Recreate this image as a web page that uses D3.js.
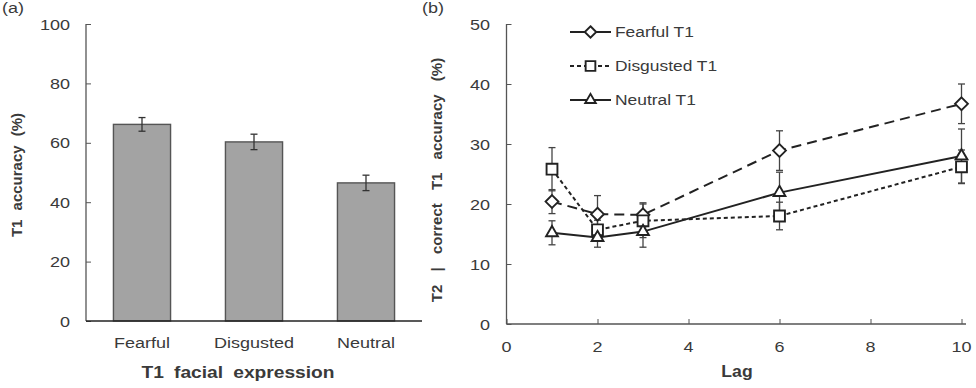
<!DOCTYPE html>
<html>
<head>
<meta charset="utf-8">
<script src="https://cdn.jsdelivr.net/npm/d3@7"></script>
<style>
  body { margin: 0; background: #fff; }
  text { font-family: "Liberation Sans", Arial, sans-serif; fill: #3a3a3a; }
</style>
</head>
<body>
<script>
// panel (a) data
var categorias = ["Fearful", "Disgusted", "Neutral"];
var acuracia = [66.2, 60.3, 46.5];
var erroA = [2.3, 2.6, 2.6];

// panel (b) data
var lags = [1, 2, 3, 6, 10];
var medoT1 = [20.4, 18.3, 18.2, 28.9, 36.7];
var medoErro = [2.0, 3.1, 2.0, 3.3, 3.3];
var nojoT1 = [25.8, 15.7, 17.2, 18.0, 26.2];
var nojoErro = [3.6, 1.6, 2.8, 2.3, 2.8];
var neutroT1 = [15.2, 14.4, 15.4, 21.9, 28.0];
var neutroErro = [2.0, 1.6, 2.6, 3.4, 4.5];
var nomesSerie = ["Fearful T1", "Disgusted T1", "Neutral T1"];

var ticksA = [0, 20, 40, 60, 80, 100];
var ticksBy = [0, 10, 20, 30, 40, 50];
var ticksBx = [0, 2, 4, 6, 8, 10];

const cinza = "#222";
const esticar = 1.2; // the original picture is a bit wider than tall

svg = d3.select("body")
  .append("svg")
  .attr("width", 976)
  .attr("height", 388);

// text helper, stretched horizontally like the original
function texto(g, x, y, t, tam, ancora, negrito) {
  return g.append("text")
    .attr("transform", "translate(" + x + "," + y + ") scale(" + esticar + ",1)")
    .attr("text-anchor", ancora)
    .attr("font-size", tam)
    .attr("font-weight", negrito ? "bold" : null)
    .text(t);
}

// ---------- (a) ----------
var escalaXa = d3.scaleBand()
  .domain(categorias)
  .range([86, 422])
  .paddingInner(0.49)
  .paddingOuter(0.245);

var escalaYa = d3.scaleLinear()
  .domain([0, 100])
  .range([321, 24]);

gA = svg.append("g");

// y axis, ticks pointing inward
gA.append("g")
  .attr("transform", "translate(86,0)")
  .call(d3.axisRight(escalaYa).tickValues(ticksA).tickSize(5).tickFormat(""))
  .call(g => g.select(".domain").remove())
  .selectAll("line").attr("stroke", "#555");
gA.append("line")
  .attr("x1", 86).attr("x2", 86)
  .attr("y1", escalaYa(100)).attr("y2", escalaYa(0))
  .attr("stroke", "#555").attr("stroke-width", 1.3);

ticksA.forEach(function(d) {
  texto(gA, 70, escalaYa(d) + 5.5, d, 15, "end");
});

gA.selectAll(".barra")
  .data(categorias)
  .enter().append("rect")
  .attr("x", d => escalaXa(d))
  .attr("width", escalaXa.bandwidth())
  .attr("y", (d, i) => escalaYa(acuracia[i]))
  .attr("height", (d, i) => escalaYa(0) - escalaYa(acuracia[i]))
  .attr("fill", "#a3a3a3")
  .attr("stroke", "#555")
  .attr("stroke-width", 1.4);

// error bars
categorias.forEach(function(c, i) {
  var cx = escalaXa(c) + escalaXa.bandwidth() / 2;
  var y1 = escalaYa(acuracia[i] + erroA[i]);
  var y2 = escalaYa(acuracia[i] - erroA[i]);
  gA.append("line").attr("x1", cx).attr("x2", cx).attr("y1", y1).attr("y2", y2)
    .attr("stroke", "#333").attr("stroke-width", 1.3);
  [y1, y2].forEach(function(y) {
    gA.append("line").attr("x1", cx - 3.5).attr("x2", cx + 3.5).attr("y1", y).attr("y2", y)
      .attr("stroke", "#333").attr("stroke-width", 1.3);
  });
});

gA.append("line")
  .attr("x1", 86).attr("x2", 422)
  .attr("y1", escalaYa(0)).attr("y2", escalaYa(0))
  .attr("stroke", "#222").attr("stroke-width", 1.4);

categorias.forEach(function(c) {
  texto(gA, escalaXa(c) + escalaXa.bandwidth() / 2, 348, c, 15, "middle");
});

texto(gA, 238, 378, "T1 facial expression", 16, "middle", true)
  .attr("word-spacing", 4);

gA.append("text")
  .attr("transform", "translate(22,175) rotate(-90)")
  .attr("text-anchor", "middle")
  .attr("font-size", 15).attr("font-weight", "bold")
  .attr("word-spacing", 5)
  .text("T1 accuracy (%)");

texto(gA, 2, 13, "(a)", 15, "start");

// ---------- (b) ----------
var escalaXb = d3.scaleLinear()
  .domain([0, 10])
  .range([506.5, 961.5]);

var escalaYb = d3.scaleLinear()
  .domain([0, 50])
  .range([324, 24]);

gB = svg.append("g");

gB.append("g")
  .attr("transform", "translate(506.5,0)")
  .call(d3.axisRight(escalaYb).tickValues(ticksBy).tickSize(5).tickFormat(""))
  .call(g => g.select(".domain").remove())
  .selectAll("line").attr("stroke", "#555");
gB.append("line")
  .attr("x1", 506.5).attr("x2", 506.5)
  .attr("y1", escalaYb(50)).attr("y2", escalaYb(0))
  .attr("stroke", "#555").attr("stroke-width", 1.3);

gB.append("g")
  .attr("transform", "translate(0,324)")
  .call(d3.axisTop(escalaXb).tickValues(ticksBx).tickSize(5).tickFormat(""))
  .call(g => g.select(".domain").remove())
  .selectAll("line").attr("stroke", "#555");
gB.append("line")
  .attr("x1", 506.5).attr("x2", 966)
  .attr("y1", escalaYb(0)).attr("y2", escalaYb(0))
  .attr("stroke", "#555").attr("stroke-width", 1.3);

ticksBy.forEach(function(d) {
  texto(gB, 490, escalaYb(d) + 5.5, d, 15, "end");
});
ticksBx.forEach(function(d) {
  texto(gB, escalaXb(d), 352, d, 15, "middle");
});

gB.append("text")
  .attr("transform", "translate(737,377) scale(1.1,1)")
  .attr("text-anchor", "middle")
  .attr("font-size", 16).attr("font-weight", "bold")
  .text("Lag");

gB.append("text")
  .attr("transform", "translate(442,180) rotate(-90)")
  .attr("text-anchor", "middle")
  .attr("font-size", 15).attr("font-weight", "bold")
  .attr("word-spacing", 9)
  .text("T2 | correct T1 accuracy (%)");

texto(gB, 422, 13, "(b)", 15, "start");

var series = [
  { nome: nomesSerie[0], valores: medoT1, erro: medoErro, dash: "10,6", simbolo: d3.symbolDiamond2, tam: 105 },
  { nome: nomesSerie[1], valores: nojoT1, erro: nojoErro, dash: "4,3", simbolo: d3.symbolSquare2, tam: 150 },
  { nome: nomesSerie[2], valores: neutroT1, erro: neutroErro, dash: null, simbolo: d3.symbolTriangle2, tam: 100 }
];

var linha = d3.line()
  .x(d => escalaXb(d[0]))
  .y(d => escalaYb(d[1]));

// error bars first
series.forEach(function(s) {
  lags.forEach(function(l, i) {
    var cx = escalaXb(l);
    var y1 = escalaYb(s.valores[i] + s.erro[i]);
    var y2 = escalaYb(s.valores[i] - s.erro[i]);
    gB.append("line").attr("x1", cx).attr("x2", cx).attr("y1", y1).attr("y2", y2)
      .attr("stroke", "#444").attr("stroke-width", 1.3);
    [y1, y2].forEach(function(y) {
      gB.append("line").attr("x1", cx - 3.5).attr("x2", cx + 3.5).attr("y1", y).attr("y2", y)
        .attr("stroke", "#444").attr("stroke-width", 1.3);
    });
  });
});

series.forEach(function(s) {
  gB.append("path")
    .datum(lags.map((l, i) => [l, s.valores[i]]))
    .attr("d", linha)
    .attr("fill", "none")
    .attr("stroke", cinza)
    .attr("stroke-width", 2)
    .attr("stroke-dasharray", s.dash);
});

series.forEach(function(s) {
  gB.selectAll(null)
    .data(lags)
    .enter().append("path")
    .attr("d", d3.symbol().type(s.simbolo).size(s.tam))
    .attr("transform", (d, i) => "translate(" + escalaXb(d) + "," + escalaYb(s.valores[i]) + ")")
    .attr("fill", "#fff")
    .attr("stroke", cinza)
    .attr("stroke-width", 1.9);
});

// legend
var legDash = [null, "4,3", null];
series.forEach(function(s, i) {
  var y = 32 + i * 34;
  gB.append("line")
    .attr("x1", 570).attr("x2", 611)
    .attr("y1", y).attr("y2", y)
    .attr("stroke", cinza).attr("stroke-width", 2)
    .attr("stroke-dasharray", legDash[i]);
  gB.append("path")
    .attr("d", d3.symbol().type(s.simbolo).size(s.tam * 0.8))
    .attr("transform", "translate(590.5," + y + ")")
    .attr("fill", "#fff")
    .attr("stroke", cinza)
    .attr("stroke-width", 1.9);
  texto(gB, 615, y + 5.2, s.nome, 14.5, "start");
});
</script>
</body>
</html>
